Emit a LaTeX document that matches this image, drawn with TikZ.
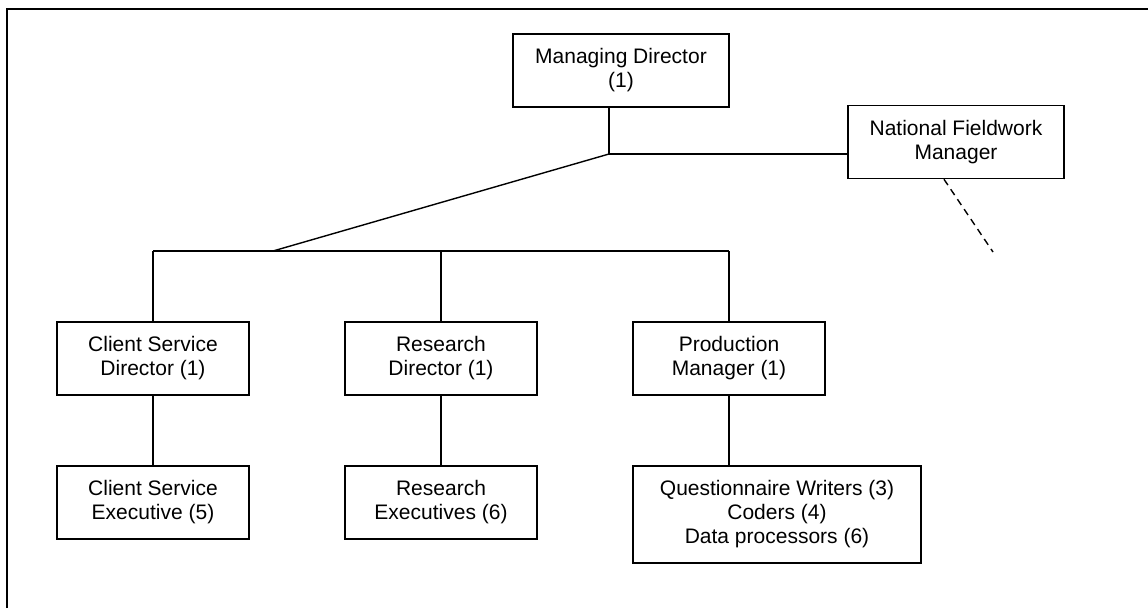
\documentclass[tikz,border=0pt]{standalone}
\usepackage{fontspec}
\setmainfont{Liberation Sans}
\usepackage{tikz}
\usetikzlibrary{positioning, calc}

\tikzset{
  post/.style={draw, line width=1.6pt, inner sep=0pt, align=center,
    minimum width=192pt, minimum height=73pt,
    font=\fontsize{21}{24}\selectfont},
  wide/.style={post, minimum width=216pt},
  link/.style={line width=1.4pt}
}

\begin{document}
\begin{tikzpicture}[x=1pt, y=-1pt]
  \useasboundingbox (0, 0) rectangle (1148, 608);

  % frame
  \draw[line width=1.6pt] (7, 608) -- (7, 9) -- (1148, 9);

  \node[wide] (md) at (621, 70.5) {Managing Director\\(1)};
  \node[wide] (nfm) at (956, 142) {National Fieldwork\\Manager};

  \node[post] (csd) at (153, 358.5) {Client Service\\Director (1)};
  \node[post] (rd) at (441, 358.5) {Research\\Director (1)};
  \node[post] (pm) at (729, 358.5) {Production\\Manager (1)};

  \node[post] (cse) at (153, 502.5) {Client Service\\Executive (5)};
  \node[post] (re) at (441, 502.5) {Research\\Executives (6)};
  \node[post, minimum width=288pt, minimum height=97pt] (qw) at (777, 514.5)
    {Questionnaire Writers (3)\\Coders (4)\\Data processors (6)};

  \coordinate (hub) at (609, 154);
  \coordinate (bus) at (273, 251);
  \coordinate (field) at (993, 252);

  \draw[link] (md.south -| hub) -- (hub) -- (hub -| nfm.west);
  \draw[link] (hub) -- (bus);
  \draw[link] (csd.north |- bus) -- (pm.north |- bus);
  \foreach \n in {csd, rd, pm} {
    \draw[link] (\n.north |- bus) -- (\n.north);
  }
  \draw[link] (csd) -- (cse);
  \draw[link] (rd) -- (re);
  \draw[link] (pm.south) -- (pm.south |- qw.north);
  \draw[link, dash pattern=on 7pt off 5pt] ([xshift=-12pt]nfm.south) -- (field);
\end{tikzpicture}
\end{document}
